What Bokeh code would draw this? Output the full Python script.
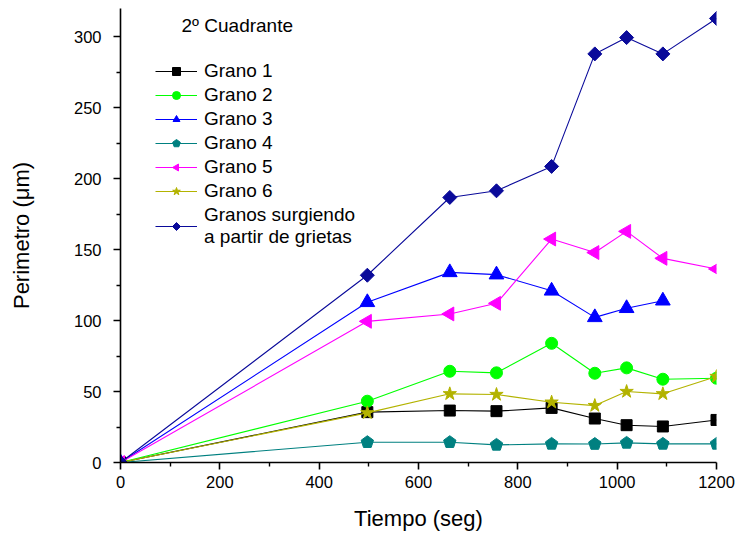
import math
from bokeh.plotting import figure
from bokeh.models import Range1d, Legend, LegendItem, Label, FixedTicker
from bokeh.embed import file_html
from bokeh.resources import INLINE

# ---- data ----
tiempo = [0, 497, 663, 757, 868, 955, 1019, 1092, 1200]
grano1 = [0, 35.5, 36.6, 36.2, 38.5, 31.0, 26.3, 25.4, 30.0]
grano2 = [0, 43.2, 64.3, 63.2, 84.0, 62.9, 66.7, 58.7, 59.4]
grano3 = [0, 112.9, 134.0, 132.4, 121.0, 102.3, 108.7, 114.0]
grano4 = [0, 14.3, 14.3, 12.4, 13.1, 13.0, 13.8, 13.1, 13.1]
grano5 = [0, 99.5, 104.7, 112.2, 157.5, 148.0, 162.9, 143.9, 136.4]
grano6 = [0, 35.0, 48.4, 47.9, 42.5, 40.1, 50.0, 48.4, 60.6]
granos_grietas = [0, 132.0, 186.8, 191.5, 208.7, 288.0, 299.5, 288.0, 313.0]

labels = ["Grano 1", "Grano 2", "Grano 3", "Grano 4", "Grano 5", "Grano 6",
          "Granos surgiendo\na partir de grietas"]
x_ticks = [0, 200, 400, 600, 800, 1000, 1200]
y_ticks = [0, 50, 100, 150, 200, 250, 300]
legend_title = "2º Cuadrante"
x_label = "Tiempo (seg)"
y_label = "Perimetro (μm)"

FONT = "Liberation Sans"

p = figure(width=737, height=534, output_backend="svg", toolbar_location=None,
           x_range=Range1d(0, 1200), y_range=Range1d(0, 320),
           min_border_left=120, min_border_right=21, min_border_top=8,
           min_border_bottom=72)
p.outline_line_color = None
p.xgrid.visible = False
p.ygrid.visible = False
p.background_fill_color = "white"
p.border_fill_color = "white"

for ax, ticks in ((p.xaxis[0], x_ticks), (p.yaxis[0], y_ticks)):
    ax.ticker = FixedTicker(ticks=ticks,
                            minor_ticks=[t + (ticks[1] - ticks[0]) / 2 for t in ticks])
    ax.axis_line_width = 1.6
    ax.major_tick_line_width = 1.6
    ax.minor_tick_line_width = 1.4
    ax.major_tick_out = 7
    ax.major_tick_in = 0
    ax.minor_tick_out = 4
    ax.minor_tick_in = 0
    ax.major_label_text_font = FONT
    ax.major_label_text_font_size = "16.5px"
    ax.major_label_text_color = "black"
    ax.axis_label_text_font = FONT
    ax.axis_label_text_font_size = "22px"
    ax.axis_label_text_font_style = "normal"
    ax.axis_label_text_color = "black"

p.xaxis.axis_label = x_label
p.yaxis.axis_label = y_label
p.xaxis.major_label_standoff = 6
p.xaxis.axis_label_standoff = 15
p.yaxis.major_label_standoff = 12
p.yaxis.axis_label_standoff = 37

# (x, y, colour, kind, shape, size, rotation)
series = [
    (tiempo, grano1, "#000000", "scatter", "square", 11, 0),
    (tiempo, grano2, "#00FF00", "scatter", "circle", 12, 0),
    (tiempo[:len(grano3)], grano3, "#0000FF", "ngon", 3, 8.5, 0),
    (tiempo, grano4, "#008080", "ngon", 5, 6.5, 0),
    (tiempo, grano5, "#FF00FF", "ngon", 3, 8, math.pi / 2),
    (tiempo, grano6, "#B3B300", "scatter", "star", 14, 0),
    (tiempo, granos_grietas, "#0A0A9A", "ngon", 4, 7, 0),
]

items = []
for (xs, ys, color, kind, shape, size, rot), lab in zip(series, labels):
    lr = p.line(xs, ys, line_color=color, line_width=1.1)
    if kind == "ngon":
        mr = p.ngon(xs, ys, radius=size, radius_units="screen", n=shape,
                    angle=rot, fill_color=color, line_color=color)
    else:
        mr = p.scatter(xs, ys, marker=shape, size=size, fill_color=color,
                       line_color=color)
    items.append(LegendItem(label=lab, renderers=[lr, mr]))

legend = Legend(items=items, location=(35, 214), padding=0, margin=0, spacing=2,
                glyph_width=42, glyph_height=20, label_height=20, label_standoff=7,
                label_text_font=FONT, label_text_font_size="19px",
                label_text_color="black", label_text_line_height=1.25,
                border_line_color=None, background_fill_alpha=0)
p.add_layout(legend)

p.add_layout(Label(x=61, y=437, x_units="screen", y_units="screen",
                   text=legend_title, text_font=FONT, text_font_size="19px",
                   text_baseline="middle", text_color="black"))

open("out.html", "w").write(file_html(p, INLINE))
